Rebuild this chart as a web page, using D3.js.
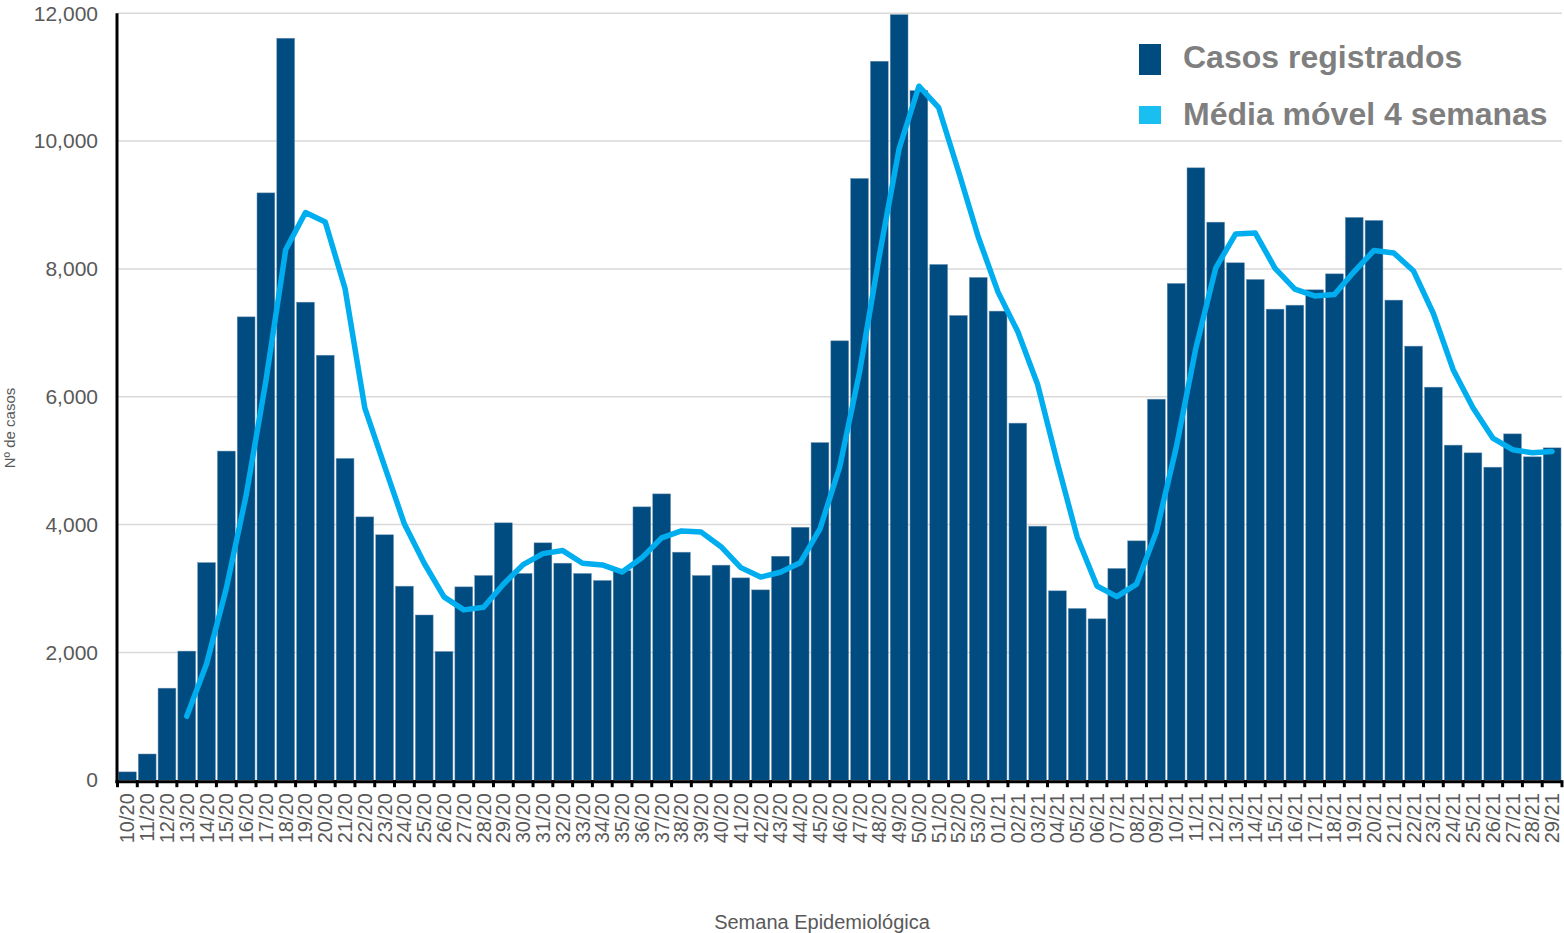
<!DOCTYPE html>
<html>
<head>
<meta charset="utf-8">
<script src="https://cdn.jsdelivr.net/npm/d3@7"></script>
<style>
  html, body { margin: 0; padding: 0; background: #ffffff; }
  svg { display: block; }
  text { font-family: "Liberation Sans", Arial, sans-serif; }
</style>
</head>
<body>
<svg id="chart" width="1564" height="933"></svg>
<script>
// Semanas epidemiológicas (10/20 – 29/21)
const weeks = [
  "10/20","11/20","12/20","13/20","14/20","15/20","16/20","17/20","18/20","19/20",
  "20/20","21/20","22/20","23/20","24/20","25/20","26/20","27/20","28/20","29/20",
  "30/20","31/20","32/20","33/20","34/20","35/20","36/20","37/20","38/20","39/20",
  "40/20","41/20","42/20","43/20","44/20","45/20","46/20","47/20","48/20","49/20",
  "50/20","51/20","52/20","53/20","01/21","02/21","03/21","04/21","05/21","06/21",
  "07/21","08/21","09/21","10/21","11/21","12/21","13/21","14/21","15/21","16/21",
  "17/21","18/21","19/21","20/21","21/21","22/21","23/21","24/21","25/21","26/21",
  "27/21","28/21","29/21"
];

// Casos registrados por semana
const casos = [
   130,   410,  1440,  2020,  3405,  5150,  7250,  9190, 11610,  7480,
  6650,  5035,  4120,  3840,  3036,  2585,  2014,  3025,  3203,  4027,
  3235,  3714,  3396,  3235,  3125,  3280,  4277,  4480,  3568,  3203,
  3365,  3166,  2978,  3505,  3958,  5283,  6875,  9416, 11250, 11980,
 10790,  8070,  7272,  7867,  7340,  5587,  3975,  2963,  2687,  2525,
  3313,  3745,  5962,  7773,  9582,  8732,  8096,  7835,  7371,  7433,
  7673,  7923,  8806,  8759,  7512,  6792,  6150,  5243,  5122,  4898,
  5419,  5060,  5200
];

// Média móvel de 4 semanas (sem valor nas 3 primeiras semanas)
const mediaMovel = [
  null,  null,  null,  1000,  1819,  3004,  4456,  6249,  8300,  8883,
  8733,  7694,  5821,  4911,  4008,  3395,  2869,  2665,  2707,  3067,
  3373,  3545,  3593,  3395,  3368,  3259,  3479,  3791,  3901,  3882,
  3654,  3326,  3178,  3254,  3402,  3931,  4905,  6383,  8206,  9880,
 10859, 10523,  9528,  8500,  7637,  7017,  6192,  4966,  3803,  3038,
  2872,  3068,  3886,  5198,  6766,  8012,  8546,  8561,  8009,  7684,
  7578,  7600,  7959,  8290,  8250,  7967,  7303,  6424,  5827,  5353,
  5171,  5125,  5144
];

const yTicks = [0, 2000, 4000, 6000, 8000, 10000, 12000];
const legendLabels = ["Casos registrados", "Média móvel 4 semanas"];

const svg = d3.select("#chart");
const plotLeft = 117.5, plotRight = 1562, plotTop = 13.3, plotBottom = 780.2;

const x = d3.scaleBand()
  .domain(weeks)
  .range([plotLeft, plotRight])
  .paddingInner(0.1)
  .paddingOuter(0.05);

const y = d3.scaleLinear()
  .domain([0, 12000])
  .range([plotBottom, plotTop]);

// Linhas de grade horizontais
svg.append("g")
  .selectAll("line")
  .data(yTicks.filter(d => d > 0))
  .join("line")
  .attr("x1", plotLeft)
  .attr("x2", plotRight)
  .attr("y1", d => y(d))
  .attr("y2", d => y(d))
  .attr("stroke", "#d9d9d9")
  .attr("stroke-width", 1.5);

// Barras
svg.append("g")
  .selectAll("rect")
  .data(casos)
  .join("rect")
  .attr("x", (d, i) => x(weeks[i]))
  .attr("width", x.bandwidth())
  .attr("y", d => y(d))
  .attr("height", d => plotBottom - y(d))
  .attr("fill", "#004b7f")
  .attr("stroke", "#6f93b3")
  .attr("stroke-width", 0.5);

// Eixo Y
const yAxis = svg.append("g")
  .attr("transform", `translate(${plotLeft - 0.5},0)`)
  .call(d3.axisLeft(y).tickValues(yTicks).tickSize(0).tickPadding(19)
    .tickFormat(d3.format(",")));
yAxis.select(".domain").remove();
yAxis.selectAll("text")
  .attr("fill", "#595959")
  .style("font-size", "21px");

svg.append("line")
  .attr("x1", plotLeft - 0.5).attr("x2", plotLeft - 0.5)
  .attr("y1", plotTop).attr("y2", plotBottom + 3)
  .attr("stroke", "#000").attr("stroke-width", 3);

// Eixo X
const step = x.step();
const boundaries = weeks.map(w => x(w) - (step - x.bandwidth()) / 2).concat([plotRight]);
svg.append("g")
  .selectAll("line")
  .data(boundaries)
  .join("line")
  .attr("x1", d => d).attr("x2", d => d)
  .attr("y1", plotBottom).attr("y2", plotBottom + 7)
  .attr("stroke", "#000").attr("stroke-width", 3);

svg.append("line")
  .attr("x1", plotLeft - 2).attr("x2", plotRight)
  .attr("y1", plotBottom + 1.5).attr("y2", plotBottom + 1.5)
  .attr("stroke", "#000").attr("stroke-width", 3);

const xAxis = svg.append("g")
  .attr("transform", `translate(0,${plotBottom})`)
  .call(d3.axisBottom(x).tickSize(0).tickPadding(0));
xAxis.select(".domain").remove();
xAxis.selectAll("text")
  .attr("fill", "#595959")
  .style("font-size", "20px")
  .attr("text-anchor", "end")
  .attr("dy", null)
  .attr("y", 0)
  .attr("x", 0)
  .attr("transform", "translate(0,13) rotate(-90)")
  .attr("dominant-baseline", "central");

// Média móvel
const line = d3.line()
  .defined(d => d != null)
  .x((d, i) => x(weeks[i]) + x.bandwidth() / 2)
  .y(d => y(d));

svg.append("path")
  .datum(mediaMovel)
  .attr("d", line)
  .attr("fill", "none")
  .attr("stroke", "#00aeef")
  .attr("stroke-width", 5.5)
  .attr("stroke-linejoin", "round")
  .attr("stroke-linecap", "round");

// Títulos dos eixos
svg.append("text")
  .attr("transform", "translate(15,428) rotate(-90)")
  .attr("text-anchor", "middle")
  .attr("fill", "#595959")
  .style("font-size", "15px")
  .text("Nº de casos");

svg.append("text")
  .attr("x", 822)
  .attr("y", 929)
  .attr("text-anchor", "middle")
  .attr("fill", "#595959")
  .style("font-size", "20px")
  .text("Semana Epidemiológica");

// Legenda
const legend = svg.append("g");
legend.append("rect")
  .attr("x", 1139).attr("y", 44).attr("width", 22).attr("height", 31)
  .attr("fill", "#004b7f");
legend.append("rect")
  .attr("x", 1139).attr("y", 106).attr("width", 22).attr("height", 18)
  .attr("fill", "#1abff2");
legend.selectAll("text")
  .data(legendLabels)
  .join("text")
  .attr("x", 1183)
  .attr("y", (d, i) => i === 0 ? 68 : 125)
  .attr("fill", "#7f7f7f")
  .style("font-size", "32px")
  .style("font-weight", "bold")
  .text(d => d);
</script>
</body>
</html>
